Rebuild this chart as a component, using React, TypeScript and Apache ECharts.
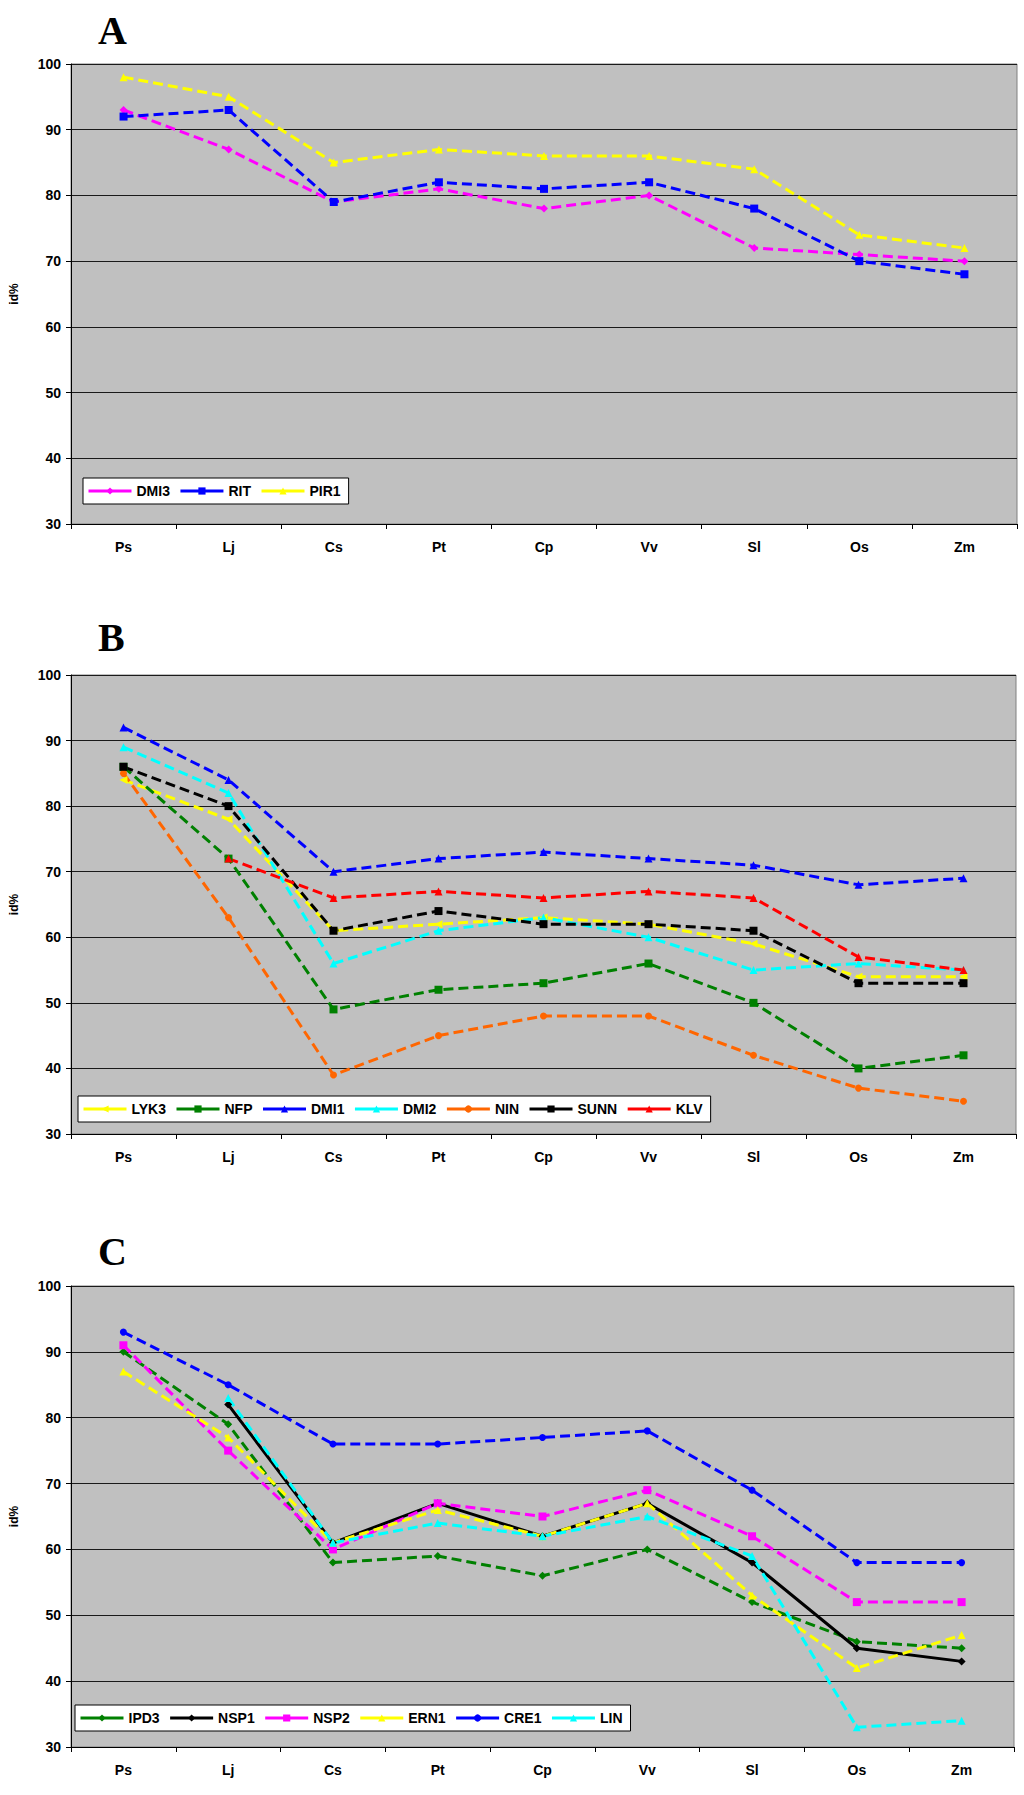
import React, { useEffect, useRef } from "react";
import * as echarts from "echarts";

const categories = ["Ps", "Lj", "Cs", "Pt", "Cp", "Vv", "Sl", "Os", "Zm"];
const yMin = 30;
const yMax = 100;
const yStep = 10;

// Panel A
const DMI3 = [93, 87, 79, 81, 78, 80, 72, 71, 70];
const RIT = [92, 93, 79, 82, 81, 82, 78, 70, 68];
const PIR1 = [98, 95, 85, 87, 86, 86, 84, 74, 72];

// Panel B
const LYK3 = [84, 78, 61, 62, 63, 62, 59, 54, 54];
const NFP = [86, 72, 49, 52, 53, 56, 50, 40, 42];
const DMI1 = [92, 84, 70, 72, 73, 72, 71, 68, 69];
const DMI2 = [89, 82, 56, 61, 63, 60, 55, 56, 55];
const NIN = [85, 63, 39, 45, 48, 48, 42, 37, 35];
const SUNN = [86, 80, 61, 64, 62, 62, 61, 53, 53];
const KLV = [null, 72, 66, 67, 66, 67, 66, 57, 55];

// Panel C
const IPD3 = [90, 79, 58, 59, 56, 60, 52, 46, 45];
const NSP1 = [null, 82, 61, 67, 62, 67, 58, 45, 43];
const NSP2 = [91, 75, 60, 67, 65, 69, 62, 52, 52];
const ERN1 = [87, 77, 61, 66, 62, 67, 53, 42, 47];
const CRE1 = [93, 85, 76, 76, 77, 78, 69, 58, 58];
const LIN = [null, 83, 61, 64, 62, 65, 59, 33, 34];

const SANS = "Liberation Sans";

type SDef = {
  name: string;
  data: (number | null)[];
  color: string;
  symbol: string;
  rotate?: number;
  solid?: boolean;
};

const panelA: SDef[] = [
  { name: "DMI3", data: DMI3, color: "#FF00FF", symbol: "diamond" },
  { name: "RIT", data: RIT, color: "#0000FF", symbol: "rect" },
  { name: "PIR1", data: PIR1, color: "#FFFF00", symbol: "triangle" },
];
const panelB: SDef[] = [
  { name: "LYK3", data: LYK3, color: "#FFFF00", symbol: "triangle", rotate: 90 },
  { name: "NFP", data: NFP, color: "#008000", symbol: "rect" },
  { name: "DMI1", data: DMI1, color: "#0000FF", symbol: "triangle" },
  { name: "DMI2", data: DMI2, color: "#00FFFF", symbol: "triangle" },
  { name: "NIN", data: NIN, color: "#FF6600", symbol: "circle" },
  { name: "SUNN", data: SUNN, color: "#000000", symbol: "rect" },
  { name: "KLV", data: KLV, color: "#FF0000", symbol: "triangle" },
];
const panelC: SDef[] = [
  { name: "IPD3", data: IPD3, color: "#008000", symbol: "diamond" },
  { name: "NSP1", data: NSP1, color: "#000000", symbol: "diamond", solid: true },
  { name: "NSP2", data: NSP2, color: "#FF00FF", symbol: "rect" },
  { name: "ERN1", data: ERN1, color: "#FFFF00", symbol: "triangle" },
  { name: "CRE1", data: CRE1, color: "#0000FF", symbol: "circle" },
  { name: "LIN", data: LIN, color: "#00FFFF", symbol: "triangle" },
];

const panels = [
  { defs: panelA, grid: { left: 63, top: 64, width: 954, height: 460 }, legend: { left: 83, top: 478 }, title: { text: "A", x: 98, y: 30 } },
  { defs: panelB, grid: { left: 63, top: 675, width: 953, height: 459 }, legend: { left: 78, top: 1096 }, title: { text: "B", x: 98, y: 637 } },
  { defs: panelC, grid: { left: 62, top: 1286, width: 952, height: 461 }, legend: { left: 75, top: 1705 }, title: { text: "C", x: 98, y: 1251 } },
];

export default function App() {
  const ref = useRef<HTMLDivElement>(null);
  useEffect(() => {
    if (!ref.current) return;
    const chart = echarts.init(ref.current, undefined, { renderer: "svg" });
    const grids: any[] = [];
    const xAxes: any[] = [];
    const yAxes: any[] = [];
    const series: any[] = [];
    const legends: any[] = [];
    const graphics: any[] = [];
    panels.forEach((p, i) => {
      grids.push({
        ...p.grid,
        show: true,
        backgroundColor: "#C0C0C0",
        borderColor: "#808080",
        borderWidth: 1,
      });
      xAxes.push({
        type: "category",
        gridIndex: i,
        data: categories,
        boundaryGap: true,
        axisLine: { show: true, lineStyle: { color: "#000", width: 1 } },
        axisTick: { show: true, length: 5, lineStyle: { color: "#000" } },
        axisLabel: {
          color: "#000",
          fontFamily: SANS,
          fontWeight: "bold",
          fontSize: 14,
          margin: 16,
        },
        splitLine: { show: false },
      });
      yAxes.push({
        type: "value",
        gridIndex: i,
        min: yMin,
        max: yMax,
        interval: yStep,
        name: "id%",
        nameLocation: "middle",
        nameGap: 51,
        nameRotate: 90,
        nameTextStyle: { color: "#000", fontFamily: SANS, fontWeight: "bold", fontSize: 12 },
        axisLine: { show: true, lineStyle: { color: "#000", width: 1 } },
        axisTick: { show: true, length: 5, lineStyle: { color: "#000" } },
        axisLabel: {
          color: "#000",
          fontFamily: SANS,
          fontWeight: "bold",
          fontSize: 14,
          margin: 10,
        },
        splitLine: { show: true, lineStyle: { color: "#1a1a1a", width: 1 } },
      });
      p.defs.forEach((d) => {
        series.push({
          type: "line",
          name: d.name,
          xAxisIndex: i,
          yAxisIndex: i,
          data: d.data,
          connectNulls: false,
          symbol: d.symbol,
          symbolSize: d.symbol === "circle" ? 7 : 8,
          symbolRotate: d.rotate || 0,
          showAllSymbol: true,
          itemStyle: { color: d.color, borderWidth: 0 },
          lineStyle: {
            color: d.color,
            width: 3,
            type: d.solid ? "solid" : [10, 5],
          },
          emphasis: { disabled: true },
        });
      });
      legends.push({
        data: p.defs.map((d) => d.name),
        left: p.legend.left,
        top: p.legend.top,
        orient: "horizontal",
        backgroundColor: "#FFFFFF",
        borderColor: "#000000",
        borderWidth: 1,
        borderRadius: 0,
        padding: [6, 8, 6, 4],
        itemGap: 9,
        itemWidth: 43,
        itemHeight: 9,
        selectedMode: false,
        lineStyle: { type: "solid", width: 3 },
        textStyle: { color: "#000", fontFamily: SANS, fontWeight: "bold", fontSize: 14 },
      });
      graphics.push({
        type: "text",
        x: p.title.x,
        y: p.title.y,
        style: {
          text: p.title.text,
          font: 'bold 40px "Liberation Serif"',
          fill: "#000",
          align: "left",
          verticalAlign: "middle",
        },
      });
    });
    chart.setOption({
      animation: false,
      backgroundColor: "#FFFFFF",
      grid: grids,
      xAxis: xAxes,
      yAxis: yAxes,
      legend: legends,
      series,
      graphic: graphics,
    });
    return () => chart.dispose();
  }, []);
  return (
    <div
      ref={ref}
      style={{ position: "absolute", left: 0, top: 0, width: 1024, height: 1795 }}
    />
  );
}
